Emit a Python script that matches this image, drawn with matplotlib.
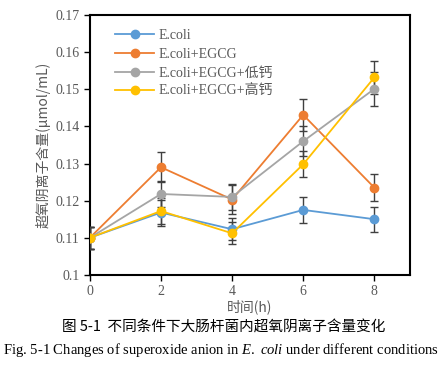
import matplotlib
matplotlib.use("Agg")
import matplotlib.pyplot as plt

plt.rcParams['font.family'] = ['Liberation Serif', 'Noto Sans CJK SC']
plt.rcParams['mathtext.fontset'] = 'custom'
plt.rcParams['mathtext.rm'] = 'Liberation Serif'
plt.rcParams['mathtext.it'] = 'Liberation Serif:italic'

time_h = [0, 2, 4, 6, 8]
series_names = ["E.coli", "E.coli+EGCG", "E.coli+EGCG+低钙", "E.coli+EGCG+高钙"]
ecoli = [0.110, 0.1168, 0.1123, 0.1175, 0.1150]
ecoli_err = [0.003, 0.0035, 0.003, 0.0035, 0.0034]
egcg = [0.110, 0.1290, 0.1203, 0.1431, 0.1235]
egcg_err = [0.003, 0.0040, 0.0040, 0.0044, 0.0037]
low_ca = [0.110, 0.1218, 0.1210, 0.1360, 0.1501]
low_ca_err = [0.003, 0.0035, 0.0035, 0.0040, 0.0045]
high_ca = [0.110, 0.1172, 0.1112, 0.1298, 0.1532]
high_ca_err = [0.003, 0.0035, 0.0030, 0.0035, 0.0044]
colors = ["#5B9BD5", "#ED7D31", "#A5A5A5", "#FFC000"]

fig = plt.figure(figsize=(4.47, 3.67), dpi=100)
ax = fig.add_axes([0.201, 0.251, 0.716, 0.708])

for vals, errs, name, c in zip([ecoli, egcg, low_ca, high_ca],
                               [ecoli_err, egcg_err, low_ca_err, high_ca_err],
                               series_names, colors):
    ax.errorbar(time_h, vals, yerr=errs, color=c, marker='o', markersize=6,
                linewidth=1.3, ecolor='#404040', elinewidth=1.0, capsize=3,
                capthick=1.0, label=name, zorder=3)

ax.set_xlim(0, 9)
ax.set_ylim(0.1, 0.17)
ax.set_xticks([0, 2, 4, 6, 8])
ax.set_yticks([0.1, 0.11, 0.12, 0.13, 0.14, 0.15, 0.16, 0.17])
ax.set_yticklabels(["0.1", "0.11", "0.12", "0.13", "0.14", "0.15", "0.16", "0.17"])
for s in ax.spines.values():
    s.set_linewidth(1.5)
    s.set_color('black')
ax.tick_params(axis='both', direction='out', length=4, width=1, labelsize=10,
               colors='black')
for lbl in ax.get_xticklabels() + ax.get_yticklabels():
    lbl.set_color('#595959')

ax.set_ylabel("超氧阴离子含量(μmol/mL)", fontsize=10, color='#595959',
              family=['Noto Sans CJK SC', 'Liberation Serif'], labelpad=3)
ax.set_xlabel("时间(h)", fontsize=10, color='#595959',
              family=['Noto Sans CJK SC', 'Liberation Serif'], labelpad=1)

handles, labels = ax.get_legend_handles_labels()
handles = [h[0] for h in handles]
leg = ax.legend(handles, labels, loc='upper left', bbox_to_anchor=(0.04, 0.995),
                frameon=False, labelspacing=0.42, handlelength=2.8, handletextpad=0.3,
                prop={'family': ['Liberation Serif', 'Noto Sans CJK SC'], 'size': 10})
for t in leg.get_texts():
    t.set_color('#595959')

fig.text(0.5, 0.107, "图 5-1  不同条件下大肠杆菌内超氧阴离子含量变化", ha='center',
         va='center', fontsize=10.5, family=['Noto Sans CJK SC', 'Liberation Serif'])
fig.text(0.495, 0.045, "Fig. 5-1 Changes of superoxide anion in $\\mathit{E.\\ coli}$ under different conditions",
         ha='center', va='center', fontsize=10.5, family='Liberation Serif')

fig.savefig("out.png", dpi=100)
